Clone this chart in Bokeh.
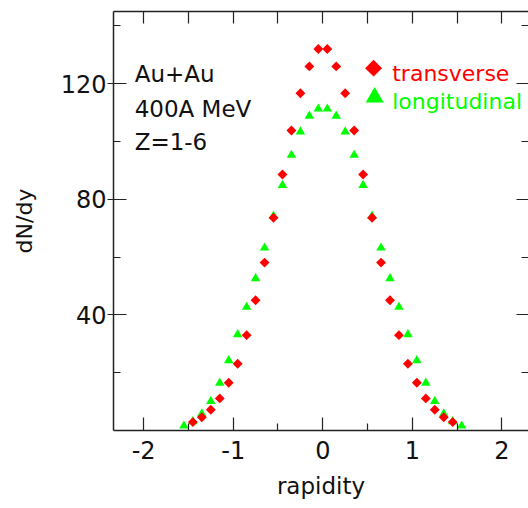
import math
from bokeh.plotting import figure
from bokeh.models import Range1d, FixedTicker, LinearAxis, Label
from bokeh.core.properties import value
from bokeh.embed import file_html
from bokeh.resources import INLINE

# ---- data ----
red_x = [-1.45, -1.35, -1.25, -1.15, -1.05, -0.95, -0.85, -0.75, -0.65, -0.55,
         -0.45, -0.35, -0.25, -0.15, -0.05, 0.05, 0.15, 0.25, 0.35, 0.45,
         0.55, 0.65, 0.75, 0.85, 0.95, 1.05, 1.15, 1.25, 1.35, 1.45]
red_y = [2.9, 4.6, 7.2, 11.1, 16.5, 23.1, 33.0, 45.1, 58.1, 73.6,
         88.6, 103.8, 116.7, 126.0, 132.0, 132.0, 126.0, 116.7, 103.8, 88.6,
         73.6, 58.1, 45.1, 33.0, 23.1, 16.5, 11.1, 7.2, 4.6, 2.9]

green_x = [-1.55, -1.45, -1.35, -1.25, -1.15, -1.05, -0.95, -0.85, -0.75, -0.65,
           -0.55, -0.45, -0.35, -0.25, -0.15, -0.05, 0.05, 0.15, 0.25, 0.35,
           0.45, 0.55, 0.65, 0.75, 0.85, 0.95, 1.05, 1.15, 1.25, 1.35,
           1.45, 1.55]
green_y = [1.6, 3.1, 5.8, 10.1, 16.4, 24.2, 33.2, 42.7, 52.6, 63.2,
           74.2, 84.9, 95.3, 103.4, 108.8, 111.3, 111.3, 108.8, 103.4, 95.3,
           84.9, 74.2, 63.2, 52.6, 42.7, 33.2, 24.2, 16.4, 10.1, 5.8,
           3.1, 1.6]

x_ticks = [-2, -1, 0, 1, 2]
x_tick_labels = ["-2", "-1", "0", "1", "2"]
x_minor = [-1.5, -0.5, 0.5, 1.5]
y_ticks = [40, 80, 120]
y_minor = [20, 60, 100, 140]
info_lines = ["Au+Au", "400A MeV", "Z=1-6"]
legend_labels = ["transverse", "longitudinal"]
red = "#ff0000"
green = "#00ff00"

FONT = "DejaVu Sans"
AXC = "#222222"
TXT = "#111111"

p = figure(frame_width=415, frame_height=419, output_backend="svg",
           toolbar_location=None,
           x_range=Range1d(-2.336, 2.296), y_range=Range1d(0, 145),
           min_border_left=113, min_border_right=0, min_border_top=11,
           min_border_bottom=78,
           x_axis_label="rapidity", y_axis_label="dN/dy")
p.grid.visible = False
p.outline_line_color = None
p.background_fill_color = "white"
p.border_fill_color = "white"

xa = p.xaxis[0]
xa.ticker = FixedTicker(ticks=x_ticks, minor_ticks=x_minor)
xa.major_label_overrides = {t: s for t, s in zip(x_ticks, x_tick_labels)}
xa.major_tick_in = 13
xa.major_tick_out = 0
xa.minor_tick_in = 7
xa.minor_tick_out = 0
xa.major_label_standoff = 10
xa.axis_label_standoff = 11

ya = p.yaxis[0]
ya.ticker = FixedTicker(ticks=y_ticks, minor_ticks=y_minor)
ya.major_tick_in = 13
ya.major_tick_out = 6
ya.minor_tick_in = 7
ya.minor_tick_out = 0
ya.major_label_standoff = 1
ya.axis_label_standoff = 21

for ax in (xa, ya):
    ax.axis_line_color = AXC
    ax.axis_line_width = 1.5
    ax.major_tick_line_color = AXC
    ax.minor_tick_line_color = AXC
    ax.major_tick_line_width = 1.2
    ax.minor_tick_line_width = 1.2
    ax.major_label_text_font = FONT
    ax.major_label_text_font_size = "24px"
    ax.major_label_text_color = TXT
    ax.axis_label_text_font = FONT
    ax.axis_label_text_font_style = "normal"
    ax.axis_label_text_color = TXT
xa.axis_label_text_font_size = "23px"
ya.axis_label_text_font_size = "22px"

top_ticks = sorted(x_ticks + x_minor)
top = LinearAxis(ticker=FixedTicker(ticks=top_ticks),
                 major_label_overrides={t: "" for t in top_ticks},
                 major_tick_in=12, major_tick_out=0, minor_tick_in=0,
                 minor_tick_out=0, major_label_standoff=0,
                 axis_line_color=AXC, axis_line_width=1.5,
                 major_tick_line_color=AXC, major_tick_line_width=1.2)
p.add_layout(top, "above")

right = LinearAxis(ticker=FixedTicker(ticks=y_ticks, minor_ticks=y_minor),
                   major_label_overrides={t: "" for t in y_ticks},
                   major_tick_in=12, major_tick_out=0, minor_tick_in=7,
                   minor_tick_out=0, major_label_standoff=0,
                   axis_line_color=None,
                   major_tick_line_color=AXC, minor_tick_line_color=AXC,
                   major_tick_line_width=1.2, minor_tick_line_width=1.2)
p.add_layout(right, "right")

# data
p.scatter(x=green_x, y=green_y, marker="triangle", size=9.5,
          fill_color=green, line_color=None)
p.scatter(x=red_x, y=red_y, marker="square", angle=math.pi / 4, size=7,
          fill_color=red, line_color=None)

# info text
info_y = [123.5, 111.4, 99.8]
for t, yy in zip(info_lines, info_y):
    p.add_layout(Label(x=-2.10, y=yy, text=t, text_font=FONT,
                       text_font_size="23px", text_color=TXT,
                       text_baseline="alphabetic", text_align="left"))

# legend (manual)
p.scatter(x=[0.567], y=[125.4], marker="square", angle=math.pi / 4, size=12,
          fill_color=red, line_color=None)
p.scatter(x=[0.579], y=[115.3], marker="triangle", size=18,
          fill_color=green, line_color=None)
p.text(x=[0.775, 0.775], y=[123.4, 113.9], text=legend_labels,
       text_color=[red, green], text_font=value(FONT), text_font_size="22px",
       text_baseline="alphabetic", text_align="left")

open("out.html", "w").write(file_html(p, INLINE))
